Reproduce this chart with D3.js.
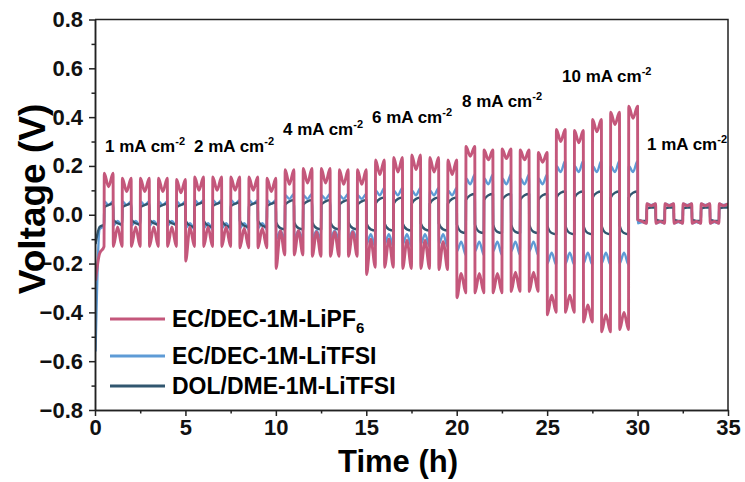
<!DOCTYPE html>
<html>
<head>
<meta charset="utf-8">
<script src="https://cdn.jsdelivr.net/npm/d3@7"></script>
<style>
  body { margin: 0; background: #fff; }
  svg { display: block; font-family: "Liberation Sans", Arial, sans-serif; font-weight: bold; }
</style>
</head>
<body>
<div id="chart"></div>
<script>
// galvanostatic cycling, 5 cycles per current density, 1 h per cycle
// (first half of each cycle negative, second half positive)
const rates = ['1', '2', '4', '6', '8', '10', '1'];
const cyclesPerRate = 5;

// EC/DEC-1M-LiPF6 : peak of every half cycle (V), 35 cycles
const lipf6Up = [0.17, 0.15, 0.15, 0.15, 0.145,
                 0.155, 0.155, 0.155, 0.155, 0.15,
                 0.185, 0.19, 0.19, 0.185, 0.185,
                 0.225, 0.235, 0.245, 0.235, 0.225,
                 0.28, 0.265, 0.27, 0.265, 0.255,
                 0.35, 0.345, 0.39, 0.42, 0.445,
                 0.045, 0.045, 0.045, 0.045, 0.045];
const lipf6Down = [-0.13, -0.13, -0.13, -0.13, -0.13,
                   -0.13, -0.13, -0.13, -0.135, -0.135,
                   -0.165, -0.165, -0.17, -0.17, -0.17,
                   -0.215, -0.215, -0.22, -0.22, -0.225,
                   -0.32, -0.32, -0.32, -0.315, -0.315,
                   -0.40, -0.40, -0.44, -0.48, -0.47,
                   -0.035, -0.035, -0.035, -0.035, -0.035];
// per rate: dip in the middle of the positive half, hump in the negative half
const lipf6UpDip = [0.055, 0.055, 0.06, 0.06, 0.04, 0.05, 0.008];
const lipf6DownHump = [0.08, 0.08, 0.1, 0.115, 0.08, 0.07, 0.008];
// first point after each current change
const lipf6Switch = [-0.27, -0.19, -0.22, -0.245, -0.34, -0.41, -0.02];

// EC/DEC-1M-LiTFSI, per rate: start / middle / end of each half
const tfsiUpStart = [0.055, 0.06, 0.08, 0.1, 0.15, 0.2, 0.045];
const tfsiUpMid = [0.04, 0.045, 0.065, 0.08, 0.125, 0.175, 0.04];
const tfsiUpEnd = [0.055, 0.06, 0.085, 0.11, 0.165, 0.22, 0.045];
const tfsiDownStart = [-0.045, -0.055, -0.1, -0.12, -0.15, -0.2, -0.035];
const tfsiDownMid = [-0.025, -0.035, -0.065, -0.08, -0.11, -0.155, -0.03];
const tfsiDownEnd = [-0.045, -0.06, -0.1, -0.13, -0.165, -0.205, -0.035];

// DOL/DME-1M-LiTFSI, per rate
const dolUpStart = [0.03, 0.035, 0.04, 0.045, 0.06, 0.07, 0.025];
const dolUpMid = [0.04, 0.045, 0.055, 0.065, 0.08, 0.09, 0.03];
const dolUpEnd = [0.045, 0.05, 0.06, 0.07, 0.085, 0.095, 0.03];
const dolDownStart = [-0.02, -0.025, -0.03, -0.035, -0.04, -0.045, -0.02];
const dolDownMid = [-0.035, -0.045, -0.055, -0.06, -0.07, -0.075, -0.025];
const dolDownEnd = [-0.04, -0.05, -0.06, -0.065, -0.075, -0.08, -0.025];

// very first half cycle: [start, middle] for LiPF6, LiTFSI, DOL/DME
const firstStart = [-0.27, -0.56, -0.12];
const firstMid = [-0.16, -0.06, -0.05];

const xTicks = [0, 5, 10, 15, 20, 25, 30, 35];
const yTicks = [-0.8, -0.6, -0.4, -0.2, 0.0, 0.2, 0.4, 0.6, 0.8];
const seriesNames = ['EC/DEC-1M-LiPF', 'EC/DEC-1M-LiTFSI', 'DOL/DME-1M-LiTFSI'];

// layout
const W = 745, H = 482;
const margin = {top: 19.5, right: 17, bottom: 72, left: 95};
const width = W - margin.left - margin.right;
const height = H - margin.top - margin.bottom;
const colors = ['#c4577b', '#5e9bd6', '#31566f'];
const notePos = [[105, 152], [194, 152], [283, 135], [372, 123], [462, 107], [562, 82], [647, 150]];

const x = d3.scaleLinear().domain([0, 35]).range([0, width]);
const y = d3.scaleLinear().domain([-0.8, 0.8]).range([height, 0]);

// turn [start, mid, end] of each half cycle into path points
function halfPoints(t0, v, first) {
  const eps = first ? 0.03 : 0.012;
  return [[t0 + eps, v[0]], [t0 + 0.25, v[1]], [t0 + 0.5, v[2]]];
}

function buildSeries(k) {
  let pts = [];
  const nCycles = rates.length * cyclesPerRate;
  for (let i = 0; i < nCycles; i++) {
    const r = Math.floor(i / cyclesPerRate);
    let down, up;
    if (k === 0) {
      const s = (i % cyclesPerRate === 0) ? lipf6Switch[r] : lipf6Down[i];
      down = [s, lipf6Down[i] + lipf6DownHump[r], lipf6Down[i]];
      up = [lipf6Up[i], lipf6Up[i] - lipf6UpDip[r], lipf6Up[i]];
    } else if (k === 1) {
      down = [tfsiDownStart[r], tfsiDownMid[r], tfsiDownEnd[r]];
      up = [tfsiUpStart[r], tfsiUpMid[r], tfsiUpEnd[r]];
    } else {
      down = [dolDownStart[r], dolDownMid[r], dolDownEnd[r]];
      up = [dolUpStart[r], dolUpMid[r], dolUpEnd[r]];
    }
    if (i === 0) { down[0] = firstStart[k]; down[1] = firstMid[k]; }
    pts = pts.concat(halfPoints(i, down, i === 0), halfPoints(i + 0.5, up, false));
  }
  return pts;
}

const svg = d3.select('#chart').append('svg')
  .attr('width', W)
  .attr('height', H);

svg.append('rect').attr('width', W).attr('height', H).attr('fill', '#fff');

const g = svg.append('g')
  .attr('transform', `translate(${margin.left},${margin.top})`);

svg.append('defs').append('clipPath').attr('id', 'plot-clip')
  .append('rect').attr('width', width).attr('height', height);

const line = d3.line()
  .x(d => x(d[0]))
  .y(d => y(d[1]))
  .curve(d3.curveMonotoneX);

// draw light series first, pink on top
const plot = g.append('g').attr('clip-path', 'url(#plot-clip)');
[1, 2, 0].forEach(k => {
  plot.append('path')
    .datum(buildSeries(k))
    .attr('fill', 'none')
    .attr('stroke', colors[k])
    .attr('stroke-width', k === 0 ? 2.9 : 2.4)
    .attr('stroke-linejoin', 'round')
    .attr('d', line);
});

// axes
const xAxis = d3.axisBottom(x).tickValues(xTicks).tickSize(6).tickPadding(3).tickSizeOuter(0);
const yAxis = d3.axisLeft(y).tickValues(yTicks).tickSize(6).tickPadding(6)
  .tickSizeOuter(0).tickFormat(d3.format('.1f'));

const xMinor = d3.axisBottom(x).tickValues([2.5, 7.5, 12.5, 17.5, 22.5, 27.5, 32.5])
  .tickSize(3.5).tickFormat('').tickSizeOuter(0);
const yMinor = d3.axisLeft(y).tickValues(d3.range(-0.7, 0.8, 0.2))
  .tickSize(3.5).tickFormat('').tickSizeOuter(0);

g.append('g').attr('transform', `translate(0,${height})`).call(xAxis);
g.append('g').attr('transform', `translate(0,${height})`).call(xMinor);
g.append('g').call(yAxis);
g.append('g').call(yMinor);

g.selectAll('.domain, .tick line').attr('stroke', '#222').attr('stroke-width', 1.5);
g.selectAll('.tick text').attr('fill', '#111').style('font-size', '22px').style('font-weight', 'bold');

// frame top and right
g.append('path')
  .attr('d', `M0,0H${width}V${height}`)
  .attr('fill', 'none').attr('stroke', '#222').attr('stroke-width', 1.5);

// axis titles
svg.append('text')
  .attr('x', 398).attr('y', 472)
  .attr('text-anchor', 'middle')
  .style('font-size', '31px')
  .text('Time (h)');

svg.append('text')
  .attr('transform', 'translate(45,199) rotate(-90)')
  .attr('text-anchor', 'middle')
  .style('font-size', '37px')
  .text('Voltage (V)');

// current density notes
rates.forEach((r, i) => {
  const t = svg.append('text')
    .attr('x', notePos[i][0]).attr('y', notePos[i][1])
    .style('font-size', '17px')
    .text(r + ' mA cm');
  t.append('tspan').attr('dy', -7).style('font-size', '11px').text('-2');
});

// legend
const legendY = [319, 356, 386];
seriesNames.forEach((name, k) => {
  svg.append('line')
    .attr('x1', 110).attr('x2', 165)
    .attr('y1', legendY[k]).attr('y2', legendY[k])
    .attr('stroke', colors[k]).attr('stroke-width', 2.8);
  const t = svg.append('text')
    .attr('x', 172).attr('y', legendY[k]).attr('dy', '0.35em')
    .style('font-size', '23px')
    .text(name);
  if (k === 0) t.append('tspan').attr('dy', 6).style('font-size', '15px').text('6');
});
</script>
</body>
</html>
